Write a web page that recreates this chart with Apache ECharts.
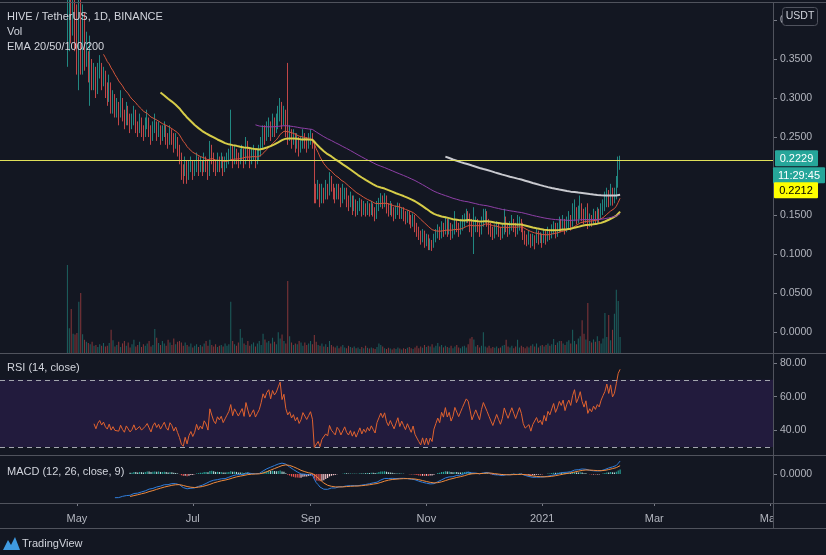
<!DOCTYPE html>
<html><head><meta charset="utf-8">
<script src="https://cdn.jsdelivr.net/npm/echarts@6/dist/echarts.min.js"></script>
<style>html,body{margin:0;padding:0;background:#131722;}#c{width:826px;height:555px;}</style>
</head><body><div id="c"></div>
<script>
// ---------- DATA ----------
const firstBarDate = [2020, 3, 26];   // 2020-04-26 (month 0-based)
const slotsBefore = 35;                // empty days before the first bar on the time axis
const totalSlots = 407;                // days visible on the time axis
const firstOpen = 0.36;
const close = [
 0.38,0.41,0.39,0.415,0.38,0.36,0.40,0.35,0.38,0.345,
 0.35,0.33,0.345,0.32,0.335,0.31,0.33,0.34,0.32,0.33,
 0.31,0.30,0.315,0.29,0.30,0.285,0.29,0.28,0.295,0.28,
 0.27,0.285,0.275,0.265,0.27,0.28,0.265,0.26,0.27,0.26,
 0.255,0.265,0.27,0.26,0.25,0.26,0.265,0.255,0.26,0.25,
 0.255,0.26,0.25,0.245,0.255,0.25,0.24,0.245,0.235,0.225,
 0.21,0.205,0.215,0.20,0.21,0.215,0.205,0.21,0.22,0.21,
 0.215,0.21,0.22,0.215,0.205,0.235,0.225,0.215,0.21,0.22,
 0.215,0.22,0.21,0.215,0.22,0.225,0.235,0.22,0.23,0.225,
 0.22,0.225,0.23,0.22,0.24,0.23,0.22,0.225,0.23,0.22,
 0.225,0.23,0.24,0.255,0.25,0.26,0.265,0.255,0.27,0.265,
 0.27,0.28,0.29,0.27,0.28,0.26,0.25,0.255,0.245,0.25,
 0.24,0.245,0.235,0.24,0.25,0.245,0.24,0.245,0.25,0.24,
 0.18,0.175,0.185,0.17,0.18,0.175,0.185,0.18,0.195,0.185,
 0.18,0.175,0.185,0.18,0.17,0.175,0.18,0.17,0.165,0.17,
 0.16,0.165,0.155,0.16,0.165,0.155,0.16,0.155,0.16,0.155,
 0.16,0.155,0.15,0.16,0.165,0.17,0.165,0.17,0.16,0.155,
 0.16,0.155,0.15,0.155,0.16,0.15,0.155,0.15,0.145,0.15,
 0.145,0.14,0.145,0.135,0.13,0.125,0.12,0.125,0.115,0.12,
 0.11,0.115,0.11,0.12,0.125,0.13,0.125,0.135,0.13,0.14,
 0.13,0.135,0.125,0.13,0.14,0.135,0.13,0.135,0.14,0.145,
 0.15,0.148,0.14,0.13,0.135,0.14,0.135,0.13,0.14,0.148,
 0.15,0.14,0.135,0.13,0.125,0.13,0.135,0.13,0.125,0.13,
 0.14,0.135,0.13,0.135,0.14,0.135,0.13,0.135,0.14,0.135,
 0.125,0.12,0.118,0.122,0.115,0.12,0.118,0.125,0.12,0.122,
 0.118,0.125,0.12,0.128,0.125,0.13,0.135,0.128,0.132,0.138,
 0.135,0.14,0.132,0.138,0.142,0.138,0.148,0.155,0.145,0.15,
 0.158,0.15,0.145,0.152,0.14,0.145,0.142,0.148,0.145,0.15,
 0.148,0.155,0.16,0.165,0.175,0.168,0.18,0.17,0.175,0.19,0.212,0.2229
];
const high = [
 .45,.48,.46,.47,.45,.42,.44,.43,.42,.41,
 .385,.36,.38,.35,.345,.34,.345,.355,.345,.34,
 .335,.32,.33,.32,.31,.305,.30,.295,.31,.30,
 .285,.295,.29,.28,.28,.29,.285,.27,.28,.275,
 .265,.275,.285,.275,.265,.27,.28,.27,.27,.265,
 .265,.27,.265,.255,.265,.26,.255,.255,.25,.24,
 .23,.215,.225,.22,.22,.225,.22,.22,.23,.225,
 .225,.22,.23,.225,.22,.245,.24,.23,.22,.23,
 .225,.23,.225,.225,.23,.235,.285,.24,.24,.235,
 .23,.235,.24,.235,.25,.245,.235,.235,.24,.235,
 .235,.24,.25,.265,.265,.27,.275,.27,.28,.275,
 .28,.29,.30,.295,.29,.285,.345,.265,.26,.26,
 .255,.255,.25,.25,.26,.255,.25,.255,.26,.255,
 .245,.19,.195,.19,.19,.185,.195,.19,.205,.20,
 .19,.185,.19,.19,.185,.19,.185,.185,.175,.18,
 .175,.175,.17,.168,.172,.17,.168,.165,.168,.165,
 .168,.165,.16,.168,.172,.178,.175,.178,.175,.165,
 .168,.165,.16,.162,.166,.165,.16,.16,.155,.156,
 .155,.15,.152,.15,.14,.135,.13,.132,.13,.126,
 .125,.12,.118,.126,.132,.138,.135,.142,.14,.148,
 .145,.145,.14,.138,.155,.145,.14,.145,.15,.152,
 .158,.155,.152,.145,.16,.148,.145,.14,.148,.158,
 .158,.155,.145,.14,.135,.138,.142,.14,.135,.138,
 .158,.148,.14,.142,.15,.145,.14,.15,.148,.145,
 .14,.13,.125,.13,.126,.126,.124,.132,.13,.128,
 .126,.132,.13,.135,.132,.138,.142,.14,.14,.148,
 .145,.15,.145,.148,.155,.15,.165,.17,.16,.162,
 .175,.165,.158,.16,.165,.152,.15,.158,.155,.16,
 .158,.165,.17,.18,.185,.182,.19,.185,.185,.20,.225,.226
];
const low = [
 .34,.36,.37,.38,.36,.33,.31,.33,.33,.335,
 .34,.32,.29,.31,.31,.30,.305,.325,.31,.315,
 .30,.29,.295,.28,.28,.275,.275,.265,.275,.27,
 .26,.265,.265,.255,.26,.265,.255,.25,.255,.25,
 .245,.25,.26,.25,.24,.245,.255,.245,.25,.24,
 .245,.25,.24,.235,.24,.24,.23,.235,.225,.215,
 .195,.19,.20,.19,.195,.205,.195,.20,.205,.20,
 .205,.20,.205,.205,.195,.20,.215,.205,.20,.205,
 .205,.21,.20,.205,.21,.215,.22,.21,.215,.215,
 .21,.215,.22,.21,.215,.22,.21,.215,.22,.21,
 .215,.22,.225,.235,.24,.245,.25,.245,.25,.25,
 .255,.26,.27,.26,.265,.25,.24,.245,.235,.24,
 .23,.235,.225,.23,.235,.235,.23,.235,.24,.235,
 .165,.165,.17,.16,.165,.165,.17,.17,.175,.18,
 .17,.165,.17,.17,.16,.165,.17,.16,.155,.16,
 .15,.155,.148,.15,.155,.148,.15,.148,.15,.148,
 .15,.148,.142,.145,.155,.16,.158,.16,.152,.148,
 .15,.148,.142,.145,.15,.145,.145,.142,.138,.14,
 .138,.133,.135,.128,.122,.118,.112,.115,.108,.11,
 .105,.105,.104,.108,.115,.12,.118,.12,.122,.125,
 .122,.125,.118,.12,.125,.128,.122,.125,.13,.135,
 .14,.14,.128,.122,.10,.128,.128,.122,.125,.135,
 .14,.135,.125,.122,.118,.12,.125,.122,.118,.12,
 .125,.128,.122,.125,.13,.128,.122,.125,.13,.128,
 .118,.112,.11,.112,.108,.11,.106,.114,.112,.114,
 .108,.114,.112,.116,.118,.12,.125,.12,.122,.128,
 .128,.13,.125,.128,.132,.13,.135,.142,.138,.14,
 .145,.142,.138,.14,.132,.135,.135,.138,.138,.14,
 .14,.145,.15,.155,.16,.16,.162,.162,.165,.17,.185,.208
];
const volume = [
 22,6.2,11,4.8,4.6,5,12.8,15,4.7,3.3,2.8,
 2.5,2.2,2.8,1.8,2.0,1.5,2.2,1.8,2.5,1.6,
 1.8,2.5,5.8,3.2,1.6,2.0,2.8,1.5,2.4,3.0,
 1.8,2.6,1.4,2.2,3.3,1.6,2.0,2.8,1.5,2.2,
 1.8,2.4,3.0,1.6,2.0,6.0,3.8,2.5,2.0,3.0,
 2.4,1.8,3.3,2.6,2.0,3.6,2.2,2.8,3.0,2.6,
 1.8,2.6,2.0,1.6,2.4,1.4,1.8,2.2,1.5,2.0,
 1.6,2.4,3.0,1.8,3.3,2.0,1.6,2.2,1.5,1.8,
 2.0,1.6,2.4,1.8,2.2,12.8,3.0,2.2,1.8,2.6,
 6.0,3.8,2.4,2.0,3.0,1.8,2.2,2.6,1.6,2.4,
 3.0,2.0,4.8,3.4,2.6,3.0,2.4,3.8,2.8,2.2,
 5.2,3.6,4.6,3.0,2.4,18.0,4.2,2.6,2.0,2.4,
 2.2,3.0,2.6,1.8,2.6,2.0,2.4,3.0,2.2,4.5,
 2.8,2.0,1.8,2.4,1.6,2.2,1.5,3.0,2.0,1.6,
 1.4,1.8,1.2,1.6,2.0,1.4,1.2,1.8,1.5,1.3,
 1.6,1.2,1.4,1.0,1.5,1.2,1.8,1.3,1.1,1.4,
 1.2,1.0,1.5,2.4,2.0,1.6,1.2,1.0,1.3,1.1,
 0.9,1.2,1.0,1.4,1.1,0.9,1.2,1.0,1.3,1.5,
 1.2,1.0,1.4,1.8,1.2,1.6,1.3,2.0,1.5,1.8,
 1.6,2.2,1.4,1.8,2.5,1.6,2.0,1.4,1.8,1.5,
 1.3,1.8,1.2,1.6,2.0,1.4,1.2,1.6,1.8,1.4,
 2.2,3.6,4.0,3.4,1.6,2.0,1.4,1.8,5.2,1.6,
 1.4,1.8,1.2,1.5,1.3,1.6,1.2,1.4,1.8,2.0,
 3.3,1.6,1.4,1.8,1.2,1.6,3.3,1.4,1.8,1.5,
 1.2,1.6,1.4,1.8,2.2,1.6,2.4,1.4,1.8,2.0,
 1.6,2.0,2.4,1.8,2.2,3.5,2.0,2.6,3.0,3.0,
 2.4,2.0,2.8,3.2,2.4,5.8,3.0,2.2,3.6,4.2,
 8.2,4.8,3.4,12.5,3.0,2.6,3.4,2.8,4.2,3.0,
 2.4,3.6,10.0,4.0,9.5,3.2,5.8,9.8,15.8,13.0,4.0
];
const tickDates = ['2020-05-01','2020-07-01','2020-09-01','2020-11-01','2021-01-01','2021-03-01','2021-05-01'];
const tickLabels = ['May','Jul','Sep','Nov','2021','Mar','May'];
const priceTicks = [0,0.05,0.1,0.15,0.2,0.25,0.3,0.35,0.4];
const rsiTicks = [40,60,80];
const macdTicks = [0];
const lastPrice = 0.2229;
const levelPrice = 0.2212;
const countdown = '11:29:45';
const emaLens = [20,50,100,200];
const emaColors = ['#d3553a','#d6cc48','#8e3fa6','#c8c9cf'];
const emaWidths = [1,2,1,2];

// ---------- BUILD ----------
const FONT = '"Liberation Sans", Arial, sans-serif';
const DAY = 86400000;
const t0 = Date.UTC(firstBarDate[0], firstBarDate[1], firstBarDate[2]) - slotsBefore*DAY;
const cats = [];
for (let i=0;i<totalSlots;i++){ cats.push(new Date(t0+i*DAY).toISOString().slice(0,10)); }
const open = close.map((c,i)=> i===0 ? firstOpen : close[i-1]);
const pad = a => new Array(slotsBefore).fill('-').concat(a.map(v=> v==null ? '-' : v));

function ema(src,len){
  const out=new Array(src.length).fill(null); const k=2/(len+1);
  let prev=null,sum=0,cnt=0;
  for(let i=0;i<src.length;i++){ const v=src[i]; if(v==null) continue;
    if(prev===null){ sum+=v; cnt++; if(cnt===len){prev=sum/len; out[i]=prev;} }
    else { prev=k*v+(1-k)*prev; out[i]=prev; } }
  return out;
}
function rsi(src,len){
  const out=new Array(src.length).fill(null); let su=0,sd=0,n=0,au=null,ad=null;
  for(let i=1;i<src.length;i++){ const ch=src[i]-src[i-1]; const u=Math.max(ch,0), d=Math.max(-ch,0);
    if(au===null){ su+=u; sd+=d; n++; if(n===len){au=su/len; ad=sd/len;} else continue; }
    else { au=(au*(len-1)+u)/len; ad=(ad*(len-1)+d)/len; }
    out[i]= ad===0?100:100-100/(1+au/ad); }
  return out;
}
const fast=ema(close,12), slow=ema(close,26);
const macd=close.map((c,i)=> (fast[i]!=null&&slow[i]!=null)? fast[i]-slow[i] : null);
const signal=ema(macd,9);
const hist=macd.map((m,i)=> (m!=null&&signal[i]!=null)? m-signal[i] : null);
const rsiVals=rsi(close,14);

const candleData = pad(close.map((c,i)=>[open[i],c,low[i],high[i]]));
const volData = pad(volume.map((v,i)=>({value:v,itemStyle:{color: close[i]>=open[i]?'rgba(38,166,154,0.5)':'rgba(239,83,80,0.5)'}})));
const histData = pad(hist.map((h,i)=>{
  if(h==null) return null; const p=hist[i-1];
  const grow = p!=null && p<h;
  const col = h>=0 ? (grow?'#26a69a':'#b2dfdb') : (grow?'#ffcdd2':'#ef5350');
  return {value:h,itemStyle:{color:col}};
}));

const chart = echarts.init(document.getElementById('c'), null, {renderer:'canvas'});
const gridL=0, gridR=53;
const xBase = (gi, show) => ({
  type:'category', gridIndex:gi, data:cats, boundaryGap:true, position:'bottom',
  axisLine:{show:false, onZero:false}, axisTick:{show:show, alignWithLabel:true, length:3, lineStyle:{color:'#787b86'},
    interval:(idx,val)=>tickDates.indexOf(val)>=0},
  axisLabel:{show:show, interval:(idx,val)=>tickDates.indexOf(val)>=0,
    formatter:v=>{const k=tickDates.indexOf(v); return k>=0?tickLabels[k]:'';},
    color:'#b2b5be', fontSize:11, fontFamily:FONT, margin:10},
  splitLine:{show:false}
});
const yRight = (gi,min,max,ticks,dec) => ({
  type:'value', gridIndex:gi, position:'right', min:min, max:max, scale:true,
  axisLine:{show:false},
  axisTick:{show:true, length:4, customValues:ticks, lineStyle:{color:'#787b86'}},
  axisLabel:{show:true, customValues:ticks, formatter:v=>Number(v).toFixed(dec), color:'#b2b5be', fontSize:10.5, fontFamily:FONT, margin:7},
  splitLine:{show:false}
});

const series = [];
series.push({type:'bar', xAxisIndex:1, yAxisIndex:1, data:volData, barWidth:'55%', z:1, silent:true});
series.push({type:'candlestick', xAxisIndex:0, yAxisIndex:0, data:candleData, barWidth:'55%', z:3, silent:true,
  itemStyle:{color:'#26a69a', color0:'#ef5350', borderColor:'#26a69a', borderColor0:'#ef5350', borderWidth:0.8},
  markLine:{symbol:'none', silent:true, label:{show:false}, animation:false,
    data:[{yAxis:lastPrice, lineStyle:{color:'#26a69a', type:'dotted', width:1}},
          {yAxis:levelPrice, lineStyle:{color:'#e0e05a', type:'solid', width:1.2}}]}});
emaLens.forEach((L,k)=>{
  series.push({type:'line', xAxisIndex:0, yAxisIndex:0, data:pad(ema(close,L)), showSymbol:false, symbol:'none',
    lineStyle:{color:emaColors[k], width:emaWidths[k]}, z:4, silent:true});
});
series.push({type:'line', xAxisIndex:2, yAxisIndex:2, data:pad(rsiVals), showSymbol:false, symbol:'none',
  lineStyle:{color:'#e0622f', width:1}, z:4, silent:true,
  markArea:{silent:true, itemStyle:{color:'#221b3d'}, data:[[{yAxis:30},{yAxis:70}]]},
  markLine:{symbol:'none', silent:true, label:{show:false},
    lineStyle:{color:'#a3a6ae', type:[5,4], width:1}, data:[{yAxis:70},{yAxis:30}]}});
series.push({type:'bar', xAxisIndex:3, yAxisIndex:3, data:histData, barWidth:'60%', z:2, silent:true});
series.push({type:'line', xAxisIndex:3, yAxisIndex:3, data:pad(macd), showSymbol:false, symbol:'none',
  lineStyle:{color:'#2f7ddb', width:1}, z:4, silent:true});
series.push({type:'line', xAxisIndex:3, yAxisIndex:3, data:pad(signal), showSymbol:false, symbol:'none',
  lineStyle:{color:'#f08a3c', width:1}, z:4, silent:true});

const sep = '#50535d';
const hline = y => ({type:'line', shape:{x1:0,y1:y,x2:826,y2:y}, style:{stroke:sep, lineWidth:1}, z:100, silent:true});
const txt = (t,x,y,size,color) => ({type:'text', x:x, y:y, style:{text:t, fill:color, fontSize:size, fontFamily:FONT, align:'left', verticalAlign:'middle'}, z:100, silent:true});

chart.setOption({
  animation:false,
  backgroundColor:'#131722',
  grid:[
    {left:gridL, right:gridR, top:3, height:350},
    {left:gridL, right:gridR, top:3, height:350},
    {left:gridL, right:gridR, top:353, height:102},
    {left:gridL, right:gridR, top:455, height:48}
  ],
  xAxis:[xBase(0,false), xBase(1,false), xBase(2,false), xBase(3,true)],
  yAxis:[
    yRight(0,-0.0269,0.4218,priceTicks,4),
    {type:'value', gridIndex:1, min:0, max:87.5, show:false, splitLine:{show:false}},
    yRight(2,25.2,86.0,rsiTicks,2),
    yRight(3,-0.03625,0.02375,macdTicks,4)
  ],
  series:series
});

const yLast = chart.convertToPixel({gridIndex:0},[0,lastPrice])[1];
const boxText = (t,x,y,w,h,bg,fg) => ([
  {type:'rect', shape:{x:x,y:y,width:w,height:h,r:1}, style:{fill:bg}, z:110, silent:true},
  {type:'text', x:x+w/2, y:y+h/2+0.5, style:{text:t, fill:fg, fontSize:11, fontFamily:FONT, align:'center', verticalAlign:'middle'}, z:111, silent:true}
]);
const graphics = [
  {type:'rect', shape:{x:774,y:504,width:52,height:24}, style:{fill:'#131722'}, z:99, silent:true},
  hline(2.5), hline(353.5), hline(455.5), hline(503.5), hline(528.5),
  {type:'line', shape:{x1:773.5,y1:2,x2:773.5,y2:528}, style:{stroke:sep, lineWidth:1}, z:100, silent:true},
  txt('HIVE / TetherUS, 1D, BINANCE',7,17,11,'#d1d4dc'),
  txt('Vol',7,32,11,'#d1d4dc'),
  txt('EMA 20/50/100/200',7,46.5,11,'#d1d4dc'),
  txt('RSI (14, close)',7,368,11,'#d1d4dc'),
  txt('MACD (12, 26, close, 9)',7,472,11,'#d1d4dc'),
  {type:'rect', shape:{x:782.5,y:7.5,width:35,height:18,r:3}, style:{fill:'#131722', stroke:'#50535e', lineWidth:1}, z:110, silent:true},
  {type:'text', x:800, y:16.5, style:{text:'USDT', fill:'#d1d4dc', fontSize:10.5, fontFamily:FONT, align:'center', verticalAlign:'middle'}, z:111, silent:true},
  {type:'polygon', shape:{points:[[3,550],[8,540],[11,545],[15,537],[20,550]]}, style:{fill:'#3f9ae0'}, z:110, silent:true},
  txt('TradingView',22,544,11,'#d1d4dc')
].concat(
  boxText(lastPrice.toFixed(4), 775, yLast-8, 43, 16, '#26a69a', '#ffffff'),
  boxText(countdown, 773, yLast+9, 52, 16, '#26a69a', '#ffffff'),
  boxText(levelPrice.toFixed(4), 774, yLast+24, 44, 16, '#ffff00', '#000000')
);
chart.setOption({graphic:graphics});
</script></body></html>
